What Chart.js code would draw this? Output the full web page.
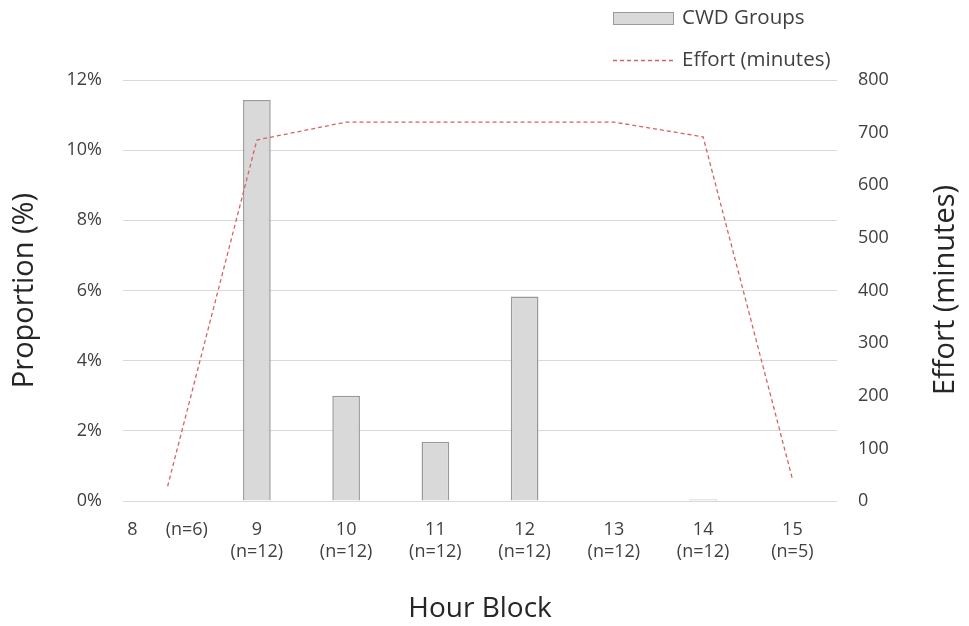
<!DOCTYPE html>
<html>
<head>
<meta charset="utf-8">
<script src="https://cdn.jsdelivr.net/npm/chart.js@4"></script>
<style>
  html, body { margin: 0; padding: 0; background: #ffffff; }
  #wrap { width: 969px; height: 626px; }
</style>
</head>
<body>
<div id="wrap"><canvas id="c" width="969" height="626"></canvas></div>
<script>
const hourLabels = ['8      (n=6)', ['9', '(n=12)'], ['10', '(n=12)'], ['11', '(n=12)'], ['12', '(n=12)'], ['13', '(n=12)'], ['14', '(n=12)'], ['15', '(n=5)']];
const cwdGroups = [0, 11.43, 3.0, 1.69, 5.83, 0, 0.04, 0];
const effortMinutes = [28, 686, 720, 720, 720, 720, 692, 42];
const proportionTicks = [0, 2, 4, 6, 8, 10, 12];
const effortTicks = [0, 100, 200, 300, 400, 500, 600, 700, 800];

const FONT = "'Open Sans', 'Liberation Sans', sans-serif";
const TICK_COLOR = '#404040';
const TITLE_COLOR = '#262626';

const extrasPlugin = {
  id: 'extras',
  afterDraw(chart) {
    const ctx = chart.ctx;
    ctx.save();
    // legend
    const dsBar = chart.data.datasets[0];
    const dsLine = chart.data.datasets[1];
    ctx.font = '20.5px ' + FONT;
    ctx.textBaseline = 'middle';
    ctx.textAlign = 'left';
    ctx.fillStyle = dsBar.backgroundColor;
    ctx.fillRect(613, 12, 61, 13);
    ctx.strokeStyle = dsBar.borderColor;
    ctx.lineWidth = 1;
    ctx.strokeRect(613.5, 12.5, 60, 12);
    ctx.fillStyle = TICK_COLOR;
    ctx.fillText(dsBar.label, 682, 18);
    ctx.strokeStyle = dsLine.borderColor;
    ctx.lineWidth = dsLine.borderWidth;
    ctx.setLineDash(dsLine.borderDash);
    ctx.beginPath();
    ctx.moveTo(613, 60.5);
    ctx.lineTo(674, 60.5);
    ctx.stroke();
    ctx.setLineDash([]);
    ctx.fillText(dsLine.label, 682, 60);
    // right axis title, reading bottom to top
    ctx.translate(946, 290);
    ctx.rotate(-Math.PI / 2);
    ctx.textAlign = 'center';
    ctx.font = '29px ' + FONT;
    ctx.fillStyle = TITLE_COLOR;
    ctx.fillText('Effort (minutes)', 0, 0);
    ctx.restore();
  }
};

new Chart(document.getElementById('c'), {
  type: 'bar',
  data: {
    labels: hourLabels,
    datasets: [
      {
        type: 'bar',
        label: 'CWD Groups',
        data: cwdGroups,
        yAxisID: 'y',
        backgroundColor: '#d9d9d9',
        borderColor: '#9a9a9a',
        borderWidth: 1.5,
        categoryPercentage: 1,
        barPercentage: 0.31,
        order: 2
      },
      {
        type: 'line',
        label: 'Effort (minutes)',
        data: effortMinutes,
        yAxisID: 'y1',
        borderColor: '#d46464',
        borderWidth: 1.3,
        borderDash: [4, 3],
        pointRadius: 0,
        tension: 0,
        fill: false,
        order: 1
      }
    ]
  },
  options: {
    responsive: false,
    animation: false,
    layout: { padding: { top: 80, left: 0, right: 0, bottom: 0 } },
    plugins: {
      legend: { display: false },
      tooltip: { enabled: false }
    },
    scales: {
      x: {
        offset: true,
        grid: { display: false, drawTicks: false },
        border: { display: false },
        ticks: {
          color: TICK_COLOR,
          font: { family: FONT, size: 18, lineHeight: 1.22 },
          padding: 18,
          autoSkip: false,
          maxRotation: 0,
          minRotation: 0
        },
        title: {
          display: true,
          text: 'Hour Block',
          color: TITLE_COLOR,
          font: { family: FONT, size: 28 },
          padding: { top: 0, bottom: 0 }
        },
        afterFit(scale) { scale.height = 125; }
      },
      y: {
        position: 'left',
        min: 0,
        max: 12,
        afterBuildTicks(scale) { scale.ticks = proportionTicks.map(v => ({ value: v })); },
        grid: { color: '#d9d9d9', lineWidth: 1, drawTicks: false },
        border: { display: false },
        ticks: {
          color: TICK_COLOR,
          font: { family: FONT, size: 18 },
          padding: 21,
          callback: v => v + '%'
        },
        title: {
          display: true,
          text: 'Proportion (%)',
          color: TITLE_COLOR,
          font: { family: FONT, size: 29 },
          padding: { top: 7, bottom: 0 }
        },
        afterFit(scale) { scale.width = 123; }
      },
      y1: {
        position: 'right',
        min: 0,
        max: 800,
        afterBuildTicks(scale) { scale.ticks = effortTicks.map(v => ({ value: v })); },
        grid: { display: false, drawTicks: false },
        border: { display: false },
        ticks: {
          color: TICK_COLOR,
          font: { family: FONT, size: 18 },
          padding: 21
        },
        afterFit(scale) { scale.width = 132; }
      }
    }
  },
  plugins: [extrasPlugin]
});
</script>
</body>
</html>
